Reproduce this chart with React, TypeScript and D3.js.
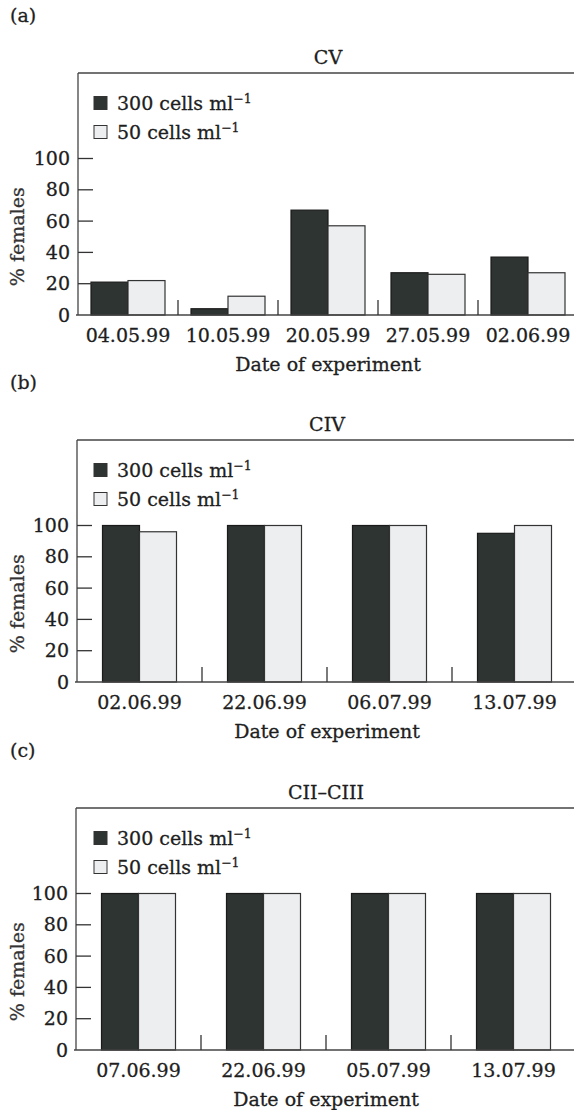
import React from "react";
import * as d3 from "d3";

const panelLabels = ["(a)", "(b)", "(c)"];
const panelTitles = ["CV", "CIV", "CII–CIII"];

const datesA = ["04.05.99", "10.05.99", "20.05.99", "27.05.99", "02.06.99"];
const high300A = [21, 4, 67, 27, 37];
const low50A = [22, 12, 57, 26, 27];

const datesB = ["02.06.99", "22.06.99", "06.07.99", "13.07.99"];
const high300B = [100, 100, 100, 95];
const low50B = [96, 100, 100, 100];

const datesC = ["07.06.99", "22.06.99", "05.07.99", "13.07.99"];
const high300C = [100, 100, 100, 100];
const low50C = [100, 100, 100, 100];

const seriesKeys = ["300", "50"];
const seriesLabels = ["300 cells ml", "50 cells ml"];
const yTicks = [0, 20, 40, 60, 80, 100];
const yAxisTitle = "% females";
const xAxisTitle = "Date of experiment";

const FONT = "'DejaVu Serif', serif";
const FS = 19;
const DARK = "#2e3431";
const LIGHT = "#eceef0";
const INK = "#1e1e1e";
const TXT = { fontFamily: FONT, fontSize: FS, fill: INK, stroke: INK, strokeWidth: 0.3 };

const layouts = [
  { top: 73, axisX: 78, groupW: 100 },
  { top: 440, axisX: 77, groupW: 125 },
  { top: 808, axisX: 76, groupW: 125 },
];

const datasets = [
  { dates: datesA, s300: high300A, s50: low50A },
  { dates: datesB, s300: high300B, s50: low50B },
  { dates: datesC, s300: high300C, s50: low50C },
];

function Panel({ idx }: { idx: number }) {
  const L = layouts[idx];
  const D = datasets[idx];
  const y100 = L.top + 85.5;
  const y0 = y100 + 156.5;
  const plotW = D.dates.length * L.groupW;
  const x0 = d3.scaleBand<string>().domain(D.dates).range([L.axisX, L.axisX + plotW]).padding(0);
  const barW = 37;
  const pad = (L.groupW - 2 * barW) / 2;
  const x1 = d3.scaleBand<string>().domain(seriesKeys).range([pad, L.groupW - pad]).padding(0);
  const y = d3.scaleLinear().domain([0, 100]).range([y0, y100]);
  const midX = L.axisX + plotW / 2;
  const rows = D.dates.map((d, i) => ({ date: d, vals: [D.s300[i], D.s50[i]] }));

  return (
    <g>
      <text x={10} y={L.top - 58} dy="0.35em" {...TXT}>
        {panelLabels[idx]}
      </text>
      <text x={midX} y={L.top - 16} dy="0.35em" textAnchor="middle" {...TXT}>
        {panelTitles[idx]}
      </text>
      {/* frame: top and left */}
      <line x1={L.axisX} x2={574} y1={L.top} y2={L.top} stroke="#444" strokeWidth={1.3} />
      <line x1={L.axisX} x2={L.axisX} y1={L.top} y2={y0} stroke="#444" strokeWidth={1.3} />
      {/* bars */}
      {rows.map((r) => (
        <g key={r.date} transform={`translate(${x0(r.date)},0)`}>
          {r.vals.map((v, j) => (
            <rect
              key={j}
              x={x1(seriesKeys[j])!}
              y={y(v)}
              width={x1.bandwidth()}
              height={y0 - y(v)}
              fill={j === 0 ? DARK : LIGHT}
              stroke={j === 0 ? "#1a1a1a" : "#333"}
              strokeWidth={1.2}
            />
          ))}
        </g>
      ))}
      {/* baseline */}
      <line x1={L.axisX - 2} x2={574} y1={y0} y2={y0} stroke="#444" strokeWidth={1.3} />
      {/* group separators */}
      {D.dates.slice(1).map((d) => (
        <line key={d} x1={x0(d)!} x2={x0(d)!} y1={y0} y2={y0 - 15} stroke="#333" strokeWidth={1.3} />
      ))}
      {/* y ticks */}
      {yTicks.map((t) => (
        <g key={t}>
          {t > 0 && (
            <line x1={L.axisX} x2={L.axisX + 15} y1={y(t)} y2={y(t)} stroke="#333" strokeWidth={1.3} />
          )}
          <text x={L.axisX - 8} y={y(t)} dy="0.35em" textAnchor="end" {...TXT}>
            {t}
          </text>
        </g>
      ))}
      {/* x labels */}
      {D.dates.map((d) => (
        <text key={d} x={x0(d)! + L.groupW / 2} y={y0 + 20.5} dy="0.35em" textAnchor="middle" {...TXT}>
          {d}
        </text>
      ))}
      <text x={midX} y={y0 + 49} dy="0.35em" textAnchor="middle" {...TXT}>
        {xAxisTitle}
      </text>
      <text
        transform={`translate(17,${(y0 + y100) / 2}) rotate(-90)`}
        dy="0.35em"
        textAnchor="middle"
        {...TXT}
        fill="#333"
        stroke="#333"
      >
        {yAxisTitle}
      </text>
      {/* legend */}
      {seriesLabels.map((s, j) => {
        const cy = L.top + 30 + j * 29;
        return (
          <g key={s}>
            <rect x={94} y={cy - 6.5} width={13} height={13} fill={j === 0 ? DARK : LIGHT} stroke="#333" strokeWidth={1} />
            <text x={117} y={cy} dy="0.35em" {...TXT}>
              {s}
              <tspan dy="-0.55em" fontSize={12.5}>
                −1
              </tspan>
            </text>
          </g>
        );
      })}
    </g>
  );
}

export default function App() {
  return (
    <svg width={574} height={1110} style={{ position: "absolute", left: 0, top: 0, background: "#fff" }}>
      <rect width={574} height={1110} fill="#fff" />
      {[0, 1, 2].map((i) => (
        <Panel key={i} idx={i} />
      ))}
    </svg>
  );
}
